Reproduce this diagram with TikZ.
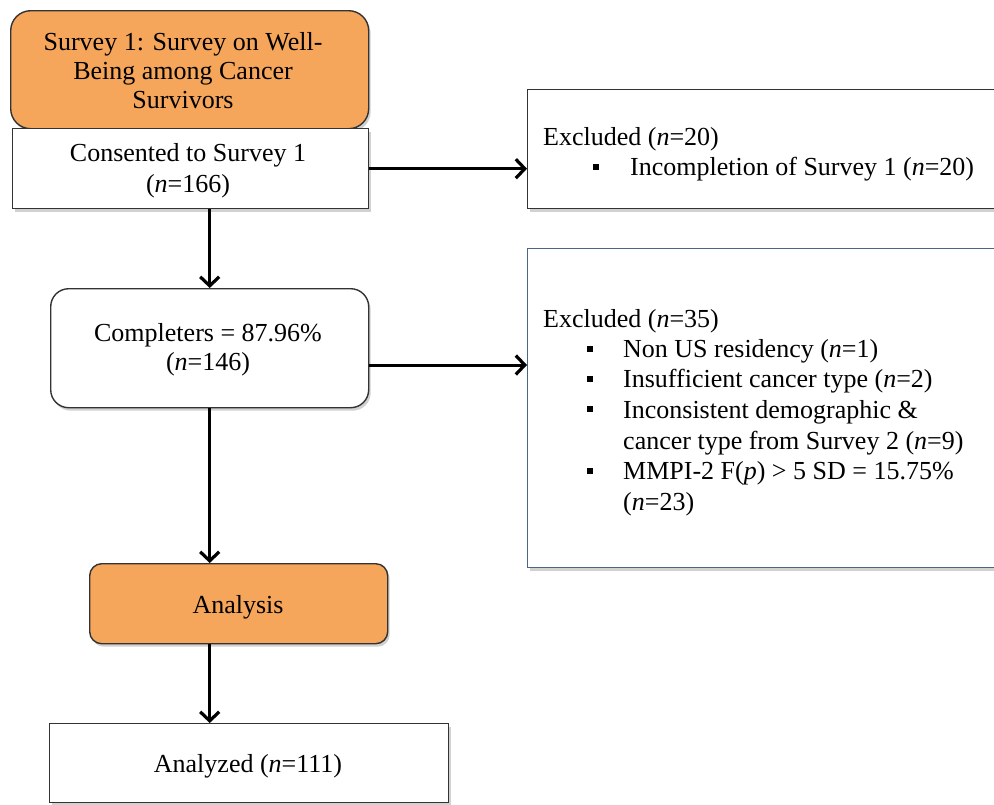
\documentclass[tikz,border=0pt]{standalone}
\usepackage{fontspec}
\setmainfont{Liberation Serif}
\usetikzlibrary{arrows.meta,shadows}
\definecolor{orangefill}{HTML}{F5A65B}
\definecolor{boxline}{HTML}{333333}
\definecolor{blueline}{HTML}{4A6585}
\tikzset{
  box/.style={draw=boxline,line width=1.4pt,fill=white,inner sep=0pt,
    drop shadow={shadow xshift=2pt,shadow yshift=-3pt,opacity=.18,fill=black}},
  orangebox/.style={box,fill=orangefill},
  txt/.style={inner sep=0pt,font=\fontsize{26}{31}\selectfont},
  ctxt/.style={txt,align=center},
  bul/.style={fill=black,inner sep=0pt,minimum size=5.5pt},
  arr/.style={line width=3pt,-{Straight Barb[length=9pt,width=19pt,line width=3.2pt]}}
}
\begin{document}
\begin{tikzpicture}[x=1pt,y=-1pt]
\useasboundingbox (0,0) rectangle (994,804);
\clip (0,0) rectangle (994,804);
% boxes
\node[orangebox,rounded corners=20pt,anchor=north west,minimum width=358pt,minimum height=118pt] (survey) at (10,10) {};
\node[box,anchor=north west,minimum width=356pt,minimum height=80pt] (consented) at (12,128) {};
\node[box,anchor=north west,minimum width=480pt,minimum height=119pt] (excl1) at (527,89) {};
\node[box,rounded corners=18pt,anchor=north west,minimum width=318pt,minimum height=119pt] (completers) at (50,288) {};
\node[box,draw=blueline,anchor=north west,minimum width=480pt,minimum height=319pt] (excl2) at (527,248) {};
\node[orangebox,rounded corners=12pt,anchor=north west,minimum width=298pt,minimum height=80pt] (analysis) at (89,563) {};
\node[box,anchor=north west,minimum width=399pt,minimum height=79pt] (analyzed) at (49,723) {};
% texts
\node[txt,align=center,font=\fontsize{26}{29}\selectfont] (surveyt) at (183,71) {Survey 1: Survey on Well-\\Being among Cancer\\Survivors};
\node[ctxt] (consentedt) at (188,171) {Consented to Survey 1\\(\textit{n}=166)};
\node[ctxt,font=\fontsize{26}{29}\selectfont] (completerst) at (208,350) {Completers = 87.96\%\\(\textit{n}=146)};
\node[txt,anchor=base] (analysist) at (238,613) {Analysis};
\node[txt,anchor=base] (analyzedt) at (248,772) {Analyzed (\textit{n}=111)};
% excluded 1
\node[txt,anchor=base west] (e1h) at (543,145) {Excluded (\textit{n}=20)};
\node[bul] (e1b) at (596,167) {};
\node[txt,anchor=base west] (e1a) at (630,175) {Incompletion of Survey 1 (\textit{n}=20)};
% excluded 2
\node[txt,anchor=base west] (e2h) at (543,327) {Excluded (\textit{n}=35)};
\node[bul] (e2b1) at (590,349) {};
\node[txt,anchor=base west] (e2a) at (623,357) {Non US residency (\textit{n}=1)};
\node[bul] (e2b2) at (590,379) {};
\node[txt,anchor=base west] (e2c) at (623,387) {Insufficient cancer type (\textit{n}=2)};
\node[bul] (e2b3) at (590,409) {};
\node[txt,anchor=base west] (e2d) at (623,418) {Inconsistent demographic \&};
\node[txt,anchor=base west] (e2e) at (623,449) {cancer type from Survey 2 (\textit{n}=9)};
\node[bul] (e2b4) at (590,471) {};
\node[txt,anchor=base west] (e2f) at (623,479) {MMPI-2 F(\textit{p}) > 5 SD = 15.75\%};
\node[txt,anchor=base west] (e2g) at (623,510) {(\textit{n}=23)};
% connectors
\coordinate (c2) at (completers.east |- 0,365);
\draw[arr] (consented.south -| completers.north) -- (completers.north);
\draw[arr] (completers.south) -- (completers.south |- analysis.north);
\draw[arr] (completers.south |- analysis.south) -- (completers.south |- analyzed.north);
\draw[arr] (consented.east) -- (consented.east -| excl1.west);
\draw[arr] (c2) -- (c2 -| excl2.west);
\end{tikzpicture}
\end{document}
